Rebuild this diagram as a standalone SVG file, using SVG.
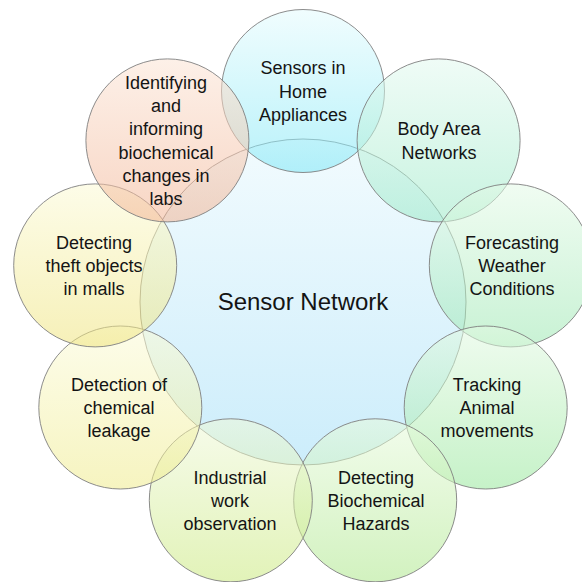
<svg xmlns="http://www.w3.org/2000/svg" width="582" height="582" viewBox="0 0 582 582">
  <defs>
    <style>
      .hub { stroke: #8c8c8c; stroke-width: 1; }
      .sat { stroke: #7f7f7f; stroke-width: 1; fill-opacity: 0.55; stroke-opacity: 0.9; }
      .lbl { font-family: "Liberation Sans", Arial, sans-serif; font-size: 18px; fill: #141414; text-anchor: middle; }
      .hub-lbl { font-family: "Liberation Sans", Arial, sans-serif; font-size: 24px; fill: #141414; text-anchor: middle; }
    </style>
    <linearGradient id="gHub" x1="0" y1="0" x2="0" y2="1">
      <stop offset="0" stop-color="#f2fbfe"/>
      <stop offset="1" stop-color="#ccedfb"/>
    </linearGradient>
    <linearGradient id="gCyan" x1="0" y1="0" x2="0" y2="1">
      <stop offset="0" stop-color="#e4fbfd"/>
      <stop offset="1" stop-color="#7ee7f6"/>
    </linearGradient>
    <linearGradient id="gMint" x1="0" y1="0" x2="0" y2="1">
      <stop offset="0" stop-color="#e2f9ef"/>
      <stop offset="1" stop-color="#9be9c7"/>
    </linearGradient>
    <linearGradient id="gSea" x1="0" y1="0" x2="0" y2="1">
      <stop offset="0" stop-color="#e4fae7"/>
      <stop offset="1" stop-color="#9be7b1"/>
    </linearGradient>
    <linearGradient id="gGreen" x1="0" y1="0" x2="0" y2="1">
      <stop offset="0" stop-color="#e2f9e2"/>
      <stop offset="1" stop-color="#97e79b"/>
    </linearGradient>
    <linearGradient id="gLeaf" x1="0" y1="0" x2="0" y2="1">
      <stop offset="0" stop-color="#e7fadc"/>
      <stop offset="1" stop-color="#ade78b"/>
    </linearGradient>
    <linearGradient id="gLime" x1="0" y1="0" x2="0" y2="1">
      <stop offset="0" stop-color="#eff8d9"/>
      <stop offset="1" stop-color="#cae97e"/>
    </linearGradient>
    <linearGradient id="gLemon" x1="0" y1="0" x2="0" y2="1">
      <stop offset="0" stop-color="#fbfbd9"/>
      <stop offset="1" stop-color="#efeb8c"/>
    </linearGradient>
    <linearGradient id="gSand" x1="0" y1="0" x2="0" y2="1">
      <stop offset="0" stop-color="#fbfad5"/>
      <stop offset="1" stop-color="#efe47e"/>
    </linearGradient>
    <linearGradient id="gPeach" x1="0" y1="0" x2="0" y2="1">
      <stop offset="0" stop-color="#fbe4d5"/>
      <stop offset="1" stop-color="#f2b494"/>
    </linearGradient>
  </defs>

  <rect width="582" height="582" fill="#ffffff"/>

  <!-- hub -->
  <g id="sensor-network">
    <circle class="hub" cx="303" cy="302" r="163" fill="url(#gHub)"/>
    <text class="hub-lbl" x="303" y="310">Sensor Network</text>
  </g>

  <!-- satellites, 40 degrees apart on a 211 px ring -->
  <g id="home-appliances">
    <circle class="sat" cx="303" cy="91" r="81.5" fill="url(#gCyan)"/>
    <text class="lbl" y="74.2"><tspan x="303">Sensors in</tspan><tspan x="303" dy="23.3">Home</tspan><tspan x="303" dy="23.3">Appliances</tspan></text>
  </g>

  <g id="body-area-networks">
    <circle class="sat" cx="438.6" cy="140.4" r="81.5" fill="url(#gMint)"/>
    <text class="lbl" x="439" y="135.4"><tspan x="439">Body Area</tspan><tspan x="439" dy="23.3">Networks</tspan></text>
  </g>

  <g id="weather">
    <circle class="sat" cx="510.8" cy="265.4" r="81.5" fill="url(#gSea)"/>
    <text class="lbl" y="248.6"><tspan x="512">Forecasting</tspan><tspan x="512" dy="23.3">Weather</tspan><tspan x="512" dy="23.3">Conditions</tspan></text>
  </g>

  <g id="animal-tracking">
    <circle class="sat" cx="485.7" cy="407.5" r="81.5" fill="url(#gGreen)"/>
    <text class="lbl" y="390.7"><tspan x="487">Tracking</tspan><tspan x="487" dy="23.3">Animal</tspan><tspan x="487" dy="23.3">movements</tspan></text>
  </g>

  <g id="biochemical-hazards">
    <circle class="sat" cx="375.2" cy="500.3" r="81.5" fill="url(#gLeaf)"/>
    <text class="lbl" y="483.5"><tspan x="376">Detecting</tspan><tspan x="376" dy="23.3">Biochemical</tspan><tspan x="376" dy="23.3">Hazards</tspan></text>
  </g>

  <g id="industrial-work">
    <circle class="sat" cx="230.8" cy="500.3" r="81.5" fill="url(#gLime)"/>
    <text class="lbl" y="483.5"><tspan x="230">Industrial</tspan><tspan x="230" dy="23.3">work</tspan><tspan x="230" dy="23.3">observation</tspan></text>
  </g>

  <g id="chemical-leakage">
    <circle class="sat" cx="120.3" cy="407.5" r="81.5" fill="url(#gLemon)"/>
    <text class="lbl" y="390.7"><tspan x="119">Detection of</tspan><tspan x="119" dy="23.3">chemical</tspan><tspan x="119" dy="23.3">leakage</tspan></text>
  </g>

  <g id="theft-detection">
    <circle class="sat" cx="95.2" cy="265.4" r="81.5" fill="url(#gSand)"/>
    <text class="lbl" y="248.6"><tspan x="94">Detecting</tspan><tspan x="94" dy="23.3">theft objects</tspan><tspan x="94" dy="23.3">in malls</tspan></text>
  </g>

  <g id="lab-biochemical-changes">
    <circle class="sat" cx="167.4" cy="140.4" r="81.5" fill="url(#gPeach)"/>
    <text class="lbl" y="88.6"><tspan x="166">Identifying</tspan><tspan x="166" dy="23.3">and</tspan><tspan x="166" dy="23.3">informing</tspan><tspan x="166" dy="23.3">biochemical</tspan><tspan x="166" dy="23.3">changes in</tspan><tspan x="166" dy="23.3">labs</tspan></text>
  </g>
</svg>
